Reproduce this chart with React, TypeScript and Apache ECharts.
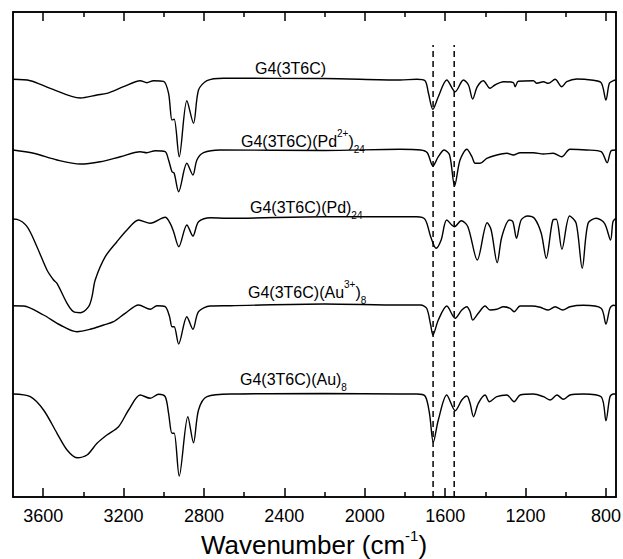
import React, { useEffect, useRef } from 'react';
import * as echarts from 'echarts';

const MAJOR_TICKS = [3600, 3200, 2800, 2400, 2000, 1600, 1200, 800];
const MINOR_TICKS = [3400, 3000, 2600, 2200, 1800, 1400, 1000];
const MARKER_WAVENUMBERS = [1660, 1555];

const SAMPLE_LABELS = [
  '{m|G4(3T6C)}',
  '{m|G4(3T6C)(Pd}{sup|2+}{m|)}{sub|24}',
  '{m|G4(3T6C)(Pd)}{sub|24}',
  '{m|G4(3T6C)(Au}{sup|3+}{m|)}{sub|8}',
  '{m|G4(3T6C)(Au)}{sub|8}',
];

// vertical offsets of each stacked spectrum (a.u.)
const OFFSETS = [417.7, 347, 278, 191.3, 103];

// [wavenumber, relative transmittance (a.u.)]
const S1_G4 = [
  [3750, 0], [3664, -1.4], [3565, -9], [3415, -18.7], [3332, -15.7], [3283, -14], [3200, -7.4],
  [3117, -1.4], [3084, -3.4], [3051, -1.4], [3001, -2], [2976, -14], [2959, -40.7], [2948, -40],
  [2923, -77.4], [2885, -21.4], [2852, -44], [2827, -10.7], [2785, -1.4], [2703, 1], [2200, 0.8],
  [1824, -0.7], [1741, 0], [1700, -1.4], [1683, -14], [1661, -30], [1634, -17.4], [1592, -0.7],
  [1550, -12.4], [1509, -0.7], [1484, -5.7], [1463, -19.7], [1440, -7.4], [1410, -1.4], [1377, -9],
  [1352, -5.7], [1310, -2.4], [1261, -3.4], [1252, -7.4], [1236, -2], [1161, -1.4], [1144, -4],
  [1111, -2.4], [1087, -4], [1053, 0], [1020, -7.4], [995, -2.4], [945, 0.3], [874, -0.7],
  [824, -3.4], [800, -20.7], [783, -4], [763, -1.4], [750, -0.7],
];

const S2_PD2 = [
  [3750, 0], [3647, -3.3], [3531, -10], [3415, -14], [3316, -11.7], [3216, -6.7], [3117, -1.7],
  [3084, -2.7], [3042, -0.7], [2993, -1.7], [2976, -10], [2959, -21.7], [2948, -23.3], [2926, -41.7],
  [2885, -13.3], [2855, -25], [2835, -10], [2802, -2.7], [2719, 0], [2200, -0.5], [1824, 0.7],
  [1722, 0], [1689, -2.7], [1661, -16], [1634, -6.7], [1605, 0], [1578, -5], [1553, -36],
  [1526, -10], [1492, 0.7], [1467, -6.7], [1451, -13.3], [1426, -13.3], [1393, -8.3], [1343, -5],
  [1293, -3.3], [1261, -5], [1227, -2.7], [1161, -2.7], [1111, -4], [1062, -3.3], [1020, -6.7],
  [979, 0.7], [896, 0], [824, -1.7], [794, -12.7], [774, -0.7], [750, 0],
];

const S3_PD = [
  [3750, 0], [3730, -0.3], [3680, -7.7], [3631, -27.7], [3581, -51], [3548, -61], [3531, -64.3],
  [3481, -84.3], [3449, -92.7], [3415, -93.7], [3374, -87.7], [3357, -77.7], [3341, -61],
  [3291, -37.7], [3233, -22.7], [3183, -11], [3125, -1], [3067, -4.3], [2993, 1.7], [2968, -4.3],
  [2951, -12.7], [2925, -27.7], [2885, -6], [2855, -17], [2827, -2.7], [2769, 1.3], [2686, 0.7],
  [2200, 2.3], [1824, 2.3], [1741, 2.3], [1700, -0.3], [1672, -17.7], [1645, -29.3], [1620, -21],
  [1592, -1], [1554, -7.7], [1520, -1.7], [1487, -7.7], [1440, -41], [1391, -3.7], [1371, -11],
  [1341, -43.7], [1318, -17.7], [1280, -1], [1263, -2.7], [1245, -19.3], [1222, -1], [1189, 3],
  [1156, 0.7], [1122, -14.3], [1097, -39.3], [1064, -1], [1047, -0.3], [1019, -30.3], [981, 3],
  [948, -4.3], [918, -49.3], [889, -4.3], [848, 0.7], [807, -4.3], [777, -21], [765, -2.7], [750, 1],
];

const S4_AU3 = [
  [3750, 0], [3697, -0.3], [3598, -9.3], [3515, -19.3], [3432, -26], [3366, -23.6], [3299, -19.3],
  [3250, -16], [3192, -7.6], [3125, 0.7], [3067, -3.6], [3034, 0], [2993, -1], [2971, -11],
  [2959, -21], [2948, -21], [2926, -38.3], [2885, -11], [2855, -23.6], [2827, -6], [2769, -0.3],
  [2669, 0], [2200, 1.7], [1824, 0.7], [1722, 0.7], [1692, -2.6], [1672, -19.3], [1661, -29.3],
  [1634, -14.3], [1592, -0.3], [1550, -12.6], [1517, -4.3], [1492, -1], [1476, -6], [1463, -14.3],
  [1435, -7.6], [1401, -0.3], [1377, -4.3], [1343, -3.6], [1310, -1], [1277, -2.6], [1257, -6],
  [1227, -0.3], [1169, -0.3], [1127, -1.6], [1087, -4.3], [1053, -1], [1015, -4.3], [979, -1],
  [912, 0.4], [824, -2.6], [800, -18.3], [780, -2.6], [763, 0.4], [750, 0],
];

const S5_AU = [
  [3750, 0], [3664, -2.7], [3598, -16], [3531, -39.3], [3481, -56], [3432, -63.7], [3382, -61],
  [3332, -49.3], [3283, -41], [3225, -32.7], [3175, -16], [3117, -1], [3067, -4.3], [3026, -0.3],
  [2993, -2.7], [2976, -19.3], [2959, -39.3], [2948, -39.3], [2923, -82], [2880, -22.7], [2852, -48.7],
  [2827, -16], [2785, -2.7], [2653, 0], [2200, 0.5], [1824, 0], [1741, 0], [1700, -2], [1678, -19.3],
  [1659, -48.3], [1634, -26], [1592, -1], [1550, -16.7], [1517, -6], [1492, -2], [1476, -9.3],
  [1459, -22.7], [1435, -9.3], [1401, -1], [1380, -7.7], [1343, -2.7], [1293, -1], [1257, -7.7],
  [1227, -1], [1161, 0], [1111, -2.7], [1077, -6], [1044, -1], [1012, -5.3], [979, -1], [912, 0],
  [824, -2.7], [800, -26.7], [780, -2.7], [763, 0], [750, 0],
];

const SPECTRA = [S1_G4, S2_PD2, S3_PD, S4_AU3, S5_AU];

const FONT = 'Arial, "Liberation Sans", Helvetica, sans-serif';
const LABEL_POS = [
  [255, 68], [241, 141], [250, 207], [248, 292], [240, 379],
];

export default function App() {
  const ref = useRef<HTMLDivElement>(null);
  useEffect(() => {
    if (!ref.current) return;
    const chart = echarts.init(ref.current, null, { renderer: 'svg' });
    const G = { left: 13, right: 7, top: 12, bottom: 62 };
    const gridRect = { ...G, outerBoundsMode: 'none', containLabel: false };
    const axisBase = {
      type: 'value', min: 750, max: 3750, inverse: true,
      splitLine: { show: false }, axisLine: { show: false },
    };
    const tickStyle = { color: '#000', width: 1.5 };
    const lineBox = { show: true, onZero: false, lineStyle: { color: '#000', width: 1.5 } };
    const labelRich = {
      m: { fontSize: 16, fontFamily: FONT, fill: '#000', lineHeight: 26 },
      sup: { fontSize: 10, fontFamily: FONT, fill: '#000', lineHeight: 12, verticalAlign: 'top' },
      sub: { fontSize: 10, fontFamily: FONT, fill: '#000', lineHeight: 12, verticalAlign: 'bottom' },
    };
    const series: any[] = SPECTRA.map((s, i) => ({
      type: 'line',
      xAxisIndex: 0, yAxisIndex: 0,
      data: s.map((p) => [p[0], p[1] + OFFSETS[i]]),
      showSymbol: false,
      smooth: 0.3,
      lineStyle: { color: '#000', width: 1.4 },
      silent: true,
    }));
    MARKER_WAVENUMBERS.forEach((w) => {
      series.push({
        type: 'line', xAxisIndex: 0, yAxisIndex: 0,
        data: [[w, 0], [w, 452]],
        showSymbol: false,
        lineStyle: { color: '#000', width: 1.5, type: [6, 4] },
        silent: true,
      });
    });
    const W = 623, H = 559;
    chart.setOption({
      animation: false,
      backgroundColor: '#fff',
      grid: [
        { ...gridRect },
        { ...gridRect },
      ],
      xAxis: [
        {
          ...axisBase, gridIndex: 0, position: 'bottom',
          axisLine: lineBox,
          axisTick: { inside: true, length: 9, customValues: MAJOR_TICKS, lineStyle: tickStyle },
          axisLabel: {
            customValues: MAJOR_TICKS, fontSize: 18, color: '#000', margin: 10, fontFamily: FONT,
            formatter: (v: number) => String(v),
          },
        },
        {
          ...axisBase, gridIndex: 0, position: 'top',
          axisLine: lineBox,
          axisTick: { inside: true, length: 9, customValues: MAJOR_TICKS, lineStyle: tickStyle },
          axisLabel: { show: false },
        },
        {
          ...axisBase, gridIndex: 1, position: 'bottom',
          axisTick: { inside: true, length: 5, customValues: MINOR_TICKS, lineStyle: tickStyle },
          axisLabel: { show: false },
        },
        {
          ...axisBase, gridIndex: 1, position: 'top',
          axisTick: { inside: true, length: 5, customValues: MINOR_TICKS, lineStyle: tickStyle },
          axisLabel: { show: false },
        },
      ],
      yAxis: [
        {
          type: 'value', gridIndex: 0, min: 0, max: 485, position: 'left',
          axisLine: lineBox,
          axisTick: { show: false }, axisLabel: { show: false }, splitLine: { show: false },
        },
        {
          type: 'value', gridIndex: 1, min: 0, max: 485, position: 'right',
          axisLine: lineBox,
          axisTick: { show: false }, axisLabel: { show: false }, splitLine: { show: false },
        },
      ],
      graphic: [
        {
          type: 'rect', silent: true, z: 10,
          shape: { x: G.left, y: G.top, width: W - G.left - G.right, height: H - G.top - G.bottom },
          style: { fill: 'none', stroke: '#000', lineWidth: 1.5 },
        },
        ...SAMPLE_LABELS.map((t, i) => ({
          type: 'text', x: LABEL_POS[i][0], y: LABEL_POS[i][1], silent: true,
          style: { text: t, rich: labelRich, align: 'left', verticalAlign: 'middle', fill: '#000', font: `16px ${FONT}` },
        })),
        {
          type: 'text', x: 314, y: 545, silent: true,
          style: {
            text: '{m|Wavenumber (cm}{sup|-1}{m|)}',
            align: 'center', verticalAlign: 'middle', fill: '#000', font: `26px ${FONT}`,
            rich: {
              m: { fontSize: 26, fontFamily: FONT, fill: '#000', lineHeight: 34 },
              sup: { fontSize: 15, fontFamily: FONT, fill: '#000', lineHeight: 16, verticalAlign: 'top' },
            },
          },
        },
      ],
      series,
    });
    return () => chart.dispose();
  }, []);
  return <div ref={ref} style={{ position: 'fixed', left: 0, top: 0, width: 623, height: 559 }} />;
}
